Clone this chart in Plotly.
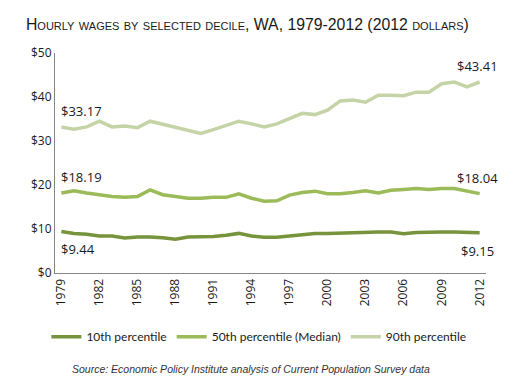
import plotly.graph_objects as go

years = list(range(1979, 2013))
p10 = [9.44, 9.0, 8.8, 8.4, 8.4, 7.95, 8.2, 8.2, 8.0, 7.7, 8.2, 8.3, 8.3, 8.6, 9.0, 8.4, 8.1, 8.1, 8.4, 8.7,
       9.0, 9.0, 9.1, 9.2, 9.3, 9.3, 9.3, 8.9, 9.2, 9.3, 9.3, 9.3, 9.3, 9.15]
p50 = [18.19, 18.7, 18.2, 17.7, 17.4, 17.2, 17.4, 18.9, 17.8, 17.4, 17.0, 17.0, 17.2, 17.2, 18.0, 17.0, 16.3, 16.4,
       17.7, 18.3, 18.6, 18.0, 18.0, 18.3, 18.7, 18.2, 18.8, 19.0, 19.2, 19.0, 19.2, 19.2, 18.7, 18.04]
p90 = [33.17, 32.7, 33.2, 34.5, 33.2, 33.4, 33.0, 34.5, 33.8, 33.1, 32.4, 31.7, 32.6, 33.6, 34.5, 33.9, 33.2, 33.9,
       35.1, 36.3, 36.0, 37.0, 39.1, 39.3, 38.8, 40.4, 40.4, 40.3, 41.1, 41.1, 43.0, 43.4, 42.3, 43.41]
names = ["10th percentile", "50th percentile (Median)", "90th percentile"]
colors = ["#77933C", "#9BBB59", "#C4D4A6"]
tick_years = list(range(1979, 2013, 3))
y_ticks = [0, 10, 20, 30, 40, 50]

fig = go.Figure()
for name, vals, col in zip(names, [p10, p50, p90], colors):
    fig.add_trace(go.Scatter(x=years, y=vals, name=name, mode="lines",
                             line=dict(color=col, width=3.5)))

lab_font = dict(family="Open Sans, sans-serif", size=13, color="#1a1a1a")
for vals, shift in [(p90, 16), (p50, 16), (p10, -18)]:
    fig.add_annotation(x=years[0], y=vals[0], text="$%.2f" % vals[0], showarrow=False,
                       xanchor="left", xshift=-2, yshift=shift, font=lab_font)
    fig.add_annotation(x=years[-1], y=vals[-1], text="$%.2f" % vals[-1], showarrow=False,
                       xanchor="center", xshift=-2, yshift=shift, font=lab_font)

fig.update_layout(
    width=513, height=377,
    margin=dict(l=47, r=35, t=45, b=112),
    paper_bgcolor="white", plot_bgcolor="white",
    title=dict(text="Hourly wages by selected decile, WA, 1979-2012 (2012 dollars)",
               x=0.035, xanchor="left", y=0.955, yanchor="middle",
               font=dict(family="Liberation Sans Narrow, Liberation Sans, sans-serif", size=15.8,
                         color="#1a1a1a", variant="small-caps")),
    showlegend=True,
    legend=dict(orientation="h", x=-0.02, xanchor="left", y=-0.29, yanchor="middle",
                font=dict(family="Lato, sans-serif", size=12, color="#1a1a1a"),
                tracegroupgap=0),
    xaxis=dict(range=[1978.5, 2012.5], tickmode="array", tickvals=tick_years,
               ticktext=[str(y) for y in tick_years], tickangle=-90,
               showgrid=False, zeroline=False, showline=True, linecolor="#868686", linewidth=1,
               ticks="", tickfont=dict(family="Open Sans, sans-serif", size=12, color="#1a1a1a")),
    yaxis=dict(range=[0, 50], tickmode="array", tickvals=y_ticks,
               ticktext=["$%d" % v for v in y_ticks],
               showgrid=False, zeroline=False, showline=True, linecolor="#868686", linewidth=1,
               ticks="", tickfont=dict(family="Open Sans, sans-serif", size=12, color="#1a1a1a")),
)

fig.add_annotation(text="<i>Source: Economic Policy Institute analysis of Current Population Survey data</i>",
                   xref="paper", yref="paper", x=0.455, y=-0.435, xanchor="center", yanchor="middle",
                   showarrow=False,
                   font=dict(family="Liberation Sans, sans-serif", size=10.5, color="#333333"))

fig.write_html("out.html")
